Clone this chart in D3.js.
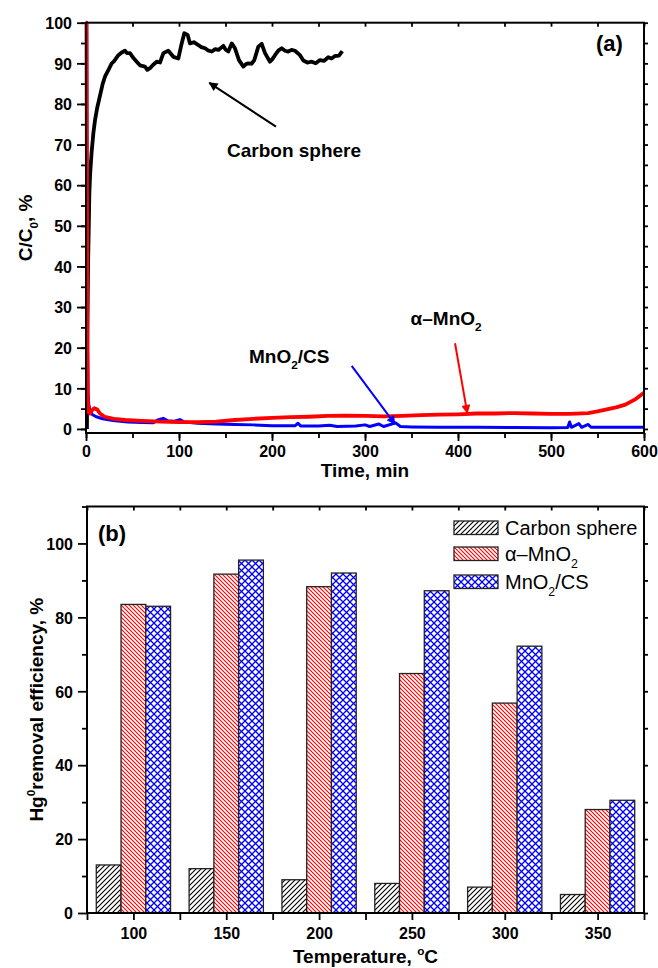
<!DOCTYPE html>
<html>
<head>
<meta charset="utf-8">
<script src="https://cdn.jsdelivr.net/npm/d3@7"></script>
<style>
    body { margin: 0; background: #fff; }
    text { font-family: 'Liberation Sans', Arial, sans-serif; }
</style>
</head>
<body>
<div id="app"></div>
<script>
// (a) breakthrough curves, [time min, C/C0 %]
const carbon_sphere = [
    [1,0],[1.5,25],[2.2,40],[3,50],[3.6,58],[4.5,63],[6,68],[8,73],[9.7,76],[12,79],[15,82],[18,85],
    [20.4,86.7],[24,88.3],[27.6,90],[30,90.5],[34.8,92],[38,92.6],[41.9,93.1],[44,92.5],[47.3,92.5],
    [51,91.3],[54.5,90.4],[58,89.5],[63.4,89.2],[66,88.4],[68.8,88.8],[72,89.6],[76,90.4],[79.6,90.2],
    [83.2,92.5],[88.5,93.1],[91,92.4],[93.9,91.6],[99.3,91.2],[102.9,94.9],[105.7,97.4],[109.3,97],
    [111.8,94.9],[116,95.2],[120.8,94.5],[124,94],[128,93.7],[131,93.2],[135.2,92.9],[139,93.5],
    [142.3,93.3],[147.7,94.3],[150,93.4],[153,92.9],[156.7,94.9],[160.2,93.7],[164.5,90.8],[169.2,89.2],
    [172,89.8],[174.5,90],[178,89.9],[181,90.8],[185.3,94.1],[188.9,94.8],[192.5,92.5],[197.8,90.4],
    [200,90.9],[203.2,92],[207,93.2],[210.4,93.7],[214,93.1],[217.5,92.9],[221,93.3],[224.7,93.1],
    [230.1,92],[233.7,90.7],[238,90.2],[242.7,90.4],[247,90],[251.6,90.8],[256,90.6],[260.5,91.5],
    [264,91.2],[267.7,91.8],[272,91.9],[275.6,93]
]
const mno2_cs = [
    [0,100],[0.8,100],[1.2,50],[1.6,20],[2.2,9],[3,6],[4.3,4.5],[7,3.5],[11,3],[18,2.5],[29,2.1],
    [45,1.7],[60,1.6],[72,1.5],[78,2.3],[83,2.6],[88,2],[95,1.9],[101,2.3],[106,1.7],[120,1.4],
    [140,1.2],[160,1.1],[180,1],[200,0.8],[225,0.8],[228,1.4],[231,0.7],[250,0.7],[262,0.9],[270,0.6],
    [290,0.7],[300,1],[305,0.6],[315,1.2],[320,0.6],[333,1.5],[338,0.6],[350,0.5],[380,0.4],[420,0.4],
    [460,0.35],[500,0.3],[518,0.35],[520,1.7],[522,0.4],[530,1.3],[533,0.4],[540,1.1],[543,0.4],
    [570,0.4],[600,0.4]
]
const alpha_mno2 = [
    [0,100],[0.5,100],[1,60],[1.5,20],[2,7],[3,4],[4.5,3.8],[6,4.5],[9,5.1],[12,4.8],[15,3.8],[20,3],
    [30,2.5],[42,2.2],[60,2],[80,1.8],[100,1.7],[120,1.7],[140,1.8],[160,2.2],[180,2.5],[200,2.7],
    [220,2.9],[240,3],[260,3.2],[280,3.3],[300,3.2],[320,3.1],[340,3.2],[360,3.4],[380,3.5],[400,3.6],
    [420,3.8],[440,3.8],[460,3.9],[480,3.8],[500,3.7],[520,3.7],[540,3.9],[550,4.3],[560,4.8],
    [570,5.3],[580,6],[590,7.2],[600,8.9]
]
const time_ticks = [0,100,200,300,400,500,600]
const conc_ticks = [0,10,20,30,40,50,60,70,80,90,100]

// (b) removal efficiency vs temperature
const temperatures = [100,150,200,250,300,350]
const series_names = ['Carbon sphere', 'α–MnO2', 'MnO2/CS']
const eff_carbon = [13,12,9,8,7,5]
const eff_alpha = [83.5,91.7,88.3,64.8,56.8,28]
const eff_cs = [83,95.5,92,87.2,72.2,30.5]
const eff_ticks = [0,20,40,60,80,100]

;(() => {

    const svg = d3.create('svg')
        .attr('width', 658)
        .attr('height', 968)
        .attr('viewBox', [0,0,658,968])

    const bold = 'bold'

    // text with sub/superscripts: parts = [[str, 'sub'|'sup'|null], ...]
    const rich = (sel, parts, size) => {
        let shift = 0
        parts.forEach(([s, kind]) => {
            const want = kind === 'sub' ? size * 0.33 : kind === 'sup' ? -size * 0.4 : 0
            sel.append('tspan')
                .attr('dy', want - shift)
                .style('font-size', kind ? (size * 0.62) + 'px' : size + 'px')
                .text(s)
            shift = want
        })
        return sel
    }

    // ---------- panel (a) ----------
    const tx = d3.scaleLinear().domain([0,600]).range([86,644])
    const ty = d3.scaleLinear().domain([-1,100]).range([433,22.7])

    const style_axis = g => {
        g.select('.domain').remove()
        g.selectAll('line').attr('stroke', '#000').attr('stroke-width', 1.8)
        g.selectAll('text')
            .attr('fill', '#000')
            .style('font-size', '16px')
            .style('font-weight', bold)
    }

    const a = svg.append('g')

    a.append('g')
        .attr('transform', `translate(0,${ty.range()[0]})`)
        .call(d3.axisBottom(tx).tickValues(d3.range(0,601,50)).tickSize(5).tickFormat(''))
        .call(style_axis)
    a.append('g')
        .attr('transform', `translate(0,${ty.range()[0]})`)
        .call(d3.axisBottom(tx).tickValues(time_ticks).tickSize(8).tickPadding(5))
        .call(style_axis)
    a.append('g')
        .attr('transform', `translate(${tx.range()[0]},0)`)
        .call(d3.axisLeft(ty).tickValues(d3.range(0,101,5)).tickSize(5).tickFormat(''))
        .call(style_axis)
    a.append('g')
        .attr('transform', `translate(${tx.range()[0]},0)`)
        .call(d3.axisLeft(ty).tickValues(conc_ticks).tickSize(9).tickPadding(5))
        .call(style_axis)
        .selectAll('text').attr('dy', '0.36em')
    a.append('g')
        .attr('transform', `translate(0,${ty.range()[1]})`)
        .call(d3.axisBottom(tx).tickValues(d3.range(0,601,50)).tickSize(4).tickFormat(''))
        .call(style_axis)
    a.append('g')
        .attr('transform', `translate(${tx.range()[1]},0)`)
        .call(d3.axisRight(ty).tickValues(d3.range(0,101,5)).tickSize(4).tickFormat(''))
        .call(style_axis)

    const line = d3.line().x(d => tx(d[0])).y(d => ty(d[1]))

    const curves = [
        { data: carbon_sphere, color: '#000', w: 3.8 },
        { data: mno2_cs, color: '#0000ff', w: 3 },
        { data: alpha_mno2, color: '#ff0000', w: 3.8 }
    ]

    a.append('g')
        .selectAll('path')
        .data(curves)
        .join('path')
        .attr('d', d => line(d.data))
        .attr('fill', 'none')
        .attr('stroke', d => d.color)
        .attr('stroke-width', d => d.w)
        .attr('stroke-linejoin', 'round')

    a.append('rect')
        .attr('x', tx.range()[0])
        .attr('y', ty.range()[1])
        .attr('width', tx.range()[1] - tx.range()[0])
        .attr('height', ty.range()[0] - ty.range()[1])
        .attr('fill', 'none')
        .attr('stroke', '#000')
        .attr('stroke-width', 2)

    // arrows
    const defs = svg.append('defs')
    ;['#000', '#0000ff', '#ff0000'].forEach((c, i) => {
        defs.append('marker')
            .attr('id', 'arr' + i)
            .attr('viewBox', '0 0 10 10')
            .attr('refX', 9).attr('refY', 5)
            .attr('markerWidth', 12).attr('markerHeight', 9)
            .attr('markerUnits', 'userSpaceOnUse')
            .attr('orient', 'auto')
            .append('path')
            .attr('d', 'M0,0L10,5L0,10Z')
            .attr('fill', c)
    })

    const notes = [
        { from: [204.3,74.4], to: [132.6,85.2], m: 0, color: '#000', text: [['Carbon sphere',null]], at: [151.6,67] },
        { from: [285.7,15.5], to: [332.3,1.2], m: 1, color: '#0000ff', text: [['MnO',null],['2','sub'],['/CS',null]], at: [175.3,16.2] },
        { from: [396.8,21.1], to: [410,3.9], m: 2, color: '#ff0000', text: [['α–MnO',null],['2','sub']], at: [349,25.6] }
    ]

    notes.forEach(n => {
        a.append('line')
            .attr('x1', tx(n.from[0])).attr('y1', ty(n.from[1]))
            .attr('x2', tx(n.to[0])).attr('y2', ty(n.to[1]))
            .attr('stroke', n.color)
            .attr('stroke-width', 2)
            .attr('marker-end', `url(#arr${n.m})`)
        a.append('text')
            .attr('x', tx(n.at[0])).attr('y', ty(n.at[1]))
            .style('font-weight', bold)
            .call(rich, n.text, 19)
    })

    a.append('text')
        .attr('x', 596).attr('y', 51)
        .style('font-weight', bold).style('font-size', '22px')
        .text('(a)')

    a.append('text')
        .attr('x', (tx.range()[0] + tx.range()[1]) / 2).attr('y', 477)
        .attr('text-anchor', 'middle')
        .style('font-weight', bold).style('font-size', '19px')
        .text('Time, min')

    a.append('text')
        .attr('transform', `translate(32,${(ty.range()[0] + ty.range()[1]) / 2}) rotate(-90)`)
        .attr('text-anchor', 'middle')
        .style('font-weight', bold)
        .call(rich, [['C/C',null],['0','sub'],[', %',null]], 19)

    // ---------- panel (b) ----------
    const bx = d3.scaleLinear().domain([75,375]).range([87,644])
    const by = d3.scaleLinear().domain([0,110]).range([913,506.5])

    const hatch = (id, w, paths, color, sw) => {
        const p = defs.append('pattern')
            .attr('id', id)
            .attr('patternUnits', 'userSpaceOnUse')
            .attr('width', w).attr('height', w)
        p.append('rect').attr('width', w).attr('height', w).attr('fill', '#fff')
        p.append('path').attr('d', paths).attr('stroke', color).attr('stroke-width', sw).attr('fill', 'none')
    }
    hatch('h0', 5, 'M-1,1L1,-1M0,5L5,0M4,6L6,4', '#000', 1.1)
    hatch('h1', 4, 'M-1,3L1,5M0,0L4,4M3,-1L5,1', '#ff0000', 1.1)
    hatch('h2', 7, 'M0,0L7,7M7,0L0,7', '#0000ff', 1.3)

    const series = [eff_carbon, eff_alpha, eff_cs]
    const group = 40
    const bw = group / series.length

    const b = svg.append('g')

    b.append('g')
        .attr('transform', `translate(0,${by.range()[0]})`)
        .call(d3.axisBottom(bx).tickValues(d3.range(75,376,50)).tickSize(7).tickFormat(''))
        .call(style_axis)
    b.append('g')
        .attr('transform', `translate(0,${by.range()[0]})`)
        .call(d3.axisBottom(bx).tickValues(temperatures).tickSize(7).tickPadding(8))
        .call(style_axis)
    b.append('g')
        .attr('transform', `translate(${bx.range()[0]},0)`)
        .call(d3.axisLeft(by).tickValues(d3.range(10,111,20)).tickSize(5).tickFormat(''))
        .call(style_axis)
    b.append('g')
        .attr('transform', `translate(${bx.range()[0]},0)`)
        .call(d3.axisLeft(by).tickValues(eff_ticks).tickSize(9).tickPadding(5))
        .call(style_axis)
        .selectAll('text').attr('dy', '0.36em')
    b.append('g')
        .attr('transform', `translate(0,${by.range()[1]})`)
        .call(d3.axisBottom(bx).tickValues(d3.range(75,376,25)).tickSize(4).tickFormat(''))
        .call(style_axis)
    b.append('g')
        .attr('transform', `translate(${bx.range()[1]},0)`)
        .call(d3.axisRight(by).tickValues(d3.range(0,111,10)).tickSize(4).tickFormat(''))
        .call(style_axis)

    series.forEach((vals, i) => {
        b.append('g')
            .selectAll('rect')
            .data(vals)
            .join('rect')
            .attr('x', (d, j) => bx(temperatures[j] - group / 2 + i * bw))
            .attr('width', bx(bw) - bx(0))
            .attr('y', d => by(d))
            .attr('height', d => by(0) - by(d))
            .attr('fill', `url(#h${i})`)
            .attr('stroke', '#222')
            .attr('stroke-width', 1.3)
    })

    b.append('rect')
        .attr('x', bx.range()[0])
        .attr('y', by.range()[1])
        .attr('width', bx.range()[1] - bx.range()[0])
        .attr('height', by.range()[0] - by.range()[1])
        .attr('fill', 'none')
        .attr('stroke', '#000')
        .attr('stroke-width', 2)

    // legend
    const leg = b.append('g')
        .selectAll('g')
        .data(series_names)
        .join('g')
        .attr('transform', (d, i) => `translate(454,${[521,547,575][i]})`)
    leg.append('rect')
        .attr('width', 44).attr('height', 13.5)
        .attr('fill', (d, i) => `url(#h${i})`)
        .attr('stroke', '#222').attr('stroke-width', 1.3)
    leg.append('text')
        .attr('x', 51).attr('y', 14)
        .each(function(d){
            const parts = d === 'Carbon sphere' ? [[d,null]]
                : d === 'α–MnO2' ? [['α–MnO',null],['2','sub']]
                : [['MnO',null],['2','sub'],['/CS',null]]
            d3.select(this).call(rich, parts, 20)
        })

    b.append('text')
        .attr('x', 98).attr('y', 541)
        .style('font-weight', bold).style('font-size', '22px')
        .text('(b)')

    b.append('text')
        .attr('x', (bx.range()[0] + bx.range()[1]) / 2).attr('y', 963)
        .attr('text-anchor', 'middle')
        .style('font-weight', bold)
        .call(rich, [['Temperature, ',null],['o','sup'],['C',null]], 19)

    b.append('text')
        .attr('transform', `translate(43,${(by.range()[0] + by.range()[1]) / 2}) rotate(-90)`)
        .attr('text-anchor', 'middle')
        .style('font-weight', bold)
        .call(rich, [['Hg',null],['0','sup'],['removal efficiency, %',null]], 19)

    d3.select('#app').append(() => svg.node())

})()
</script>
</body>
</html>
